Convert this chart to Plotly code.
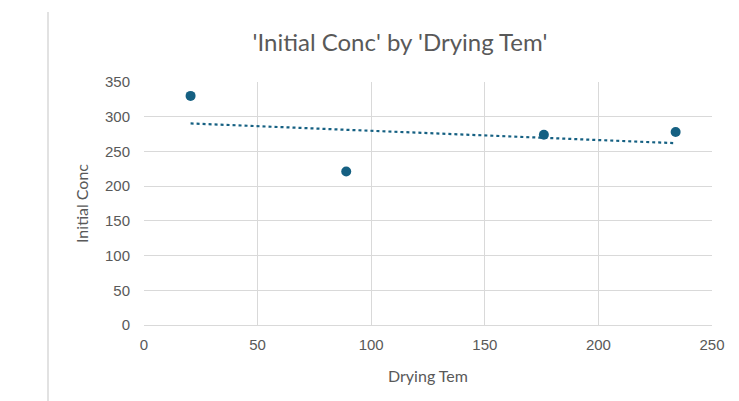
import numpy as np
import plotly.graph_objects as go

# Measurements
drying_tem = [20.5, 89, 176, 234]
initial_conc = [330, 221, 274, 278]

x_ticks = [0, 50, 100, 150, 200, 250]
y_ticks = [0, 50, 100, 150, 200, 250, 300, 350]

MARK = "#156082"
TEXT = "#595959"
GRID = "#d9d9d9"

# Linear trendline over the span of the data
slope, intercept = np.polyfit(drying_tem, initial_conc, 1)
trend_x = [min(drying_tem), max(drying_tem)]
trend_y = [slope * v + intercept for v in trend_x]

fig = go.Figure()
fig.add_trace(go.Scatter(
    x=trend_x, y=trend_y, mode="lines",
    line=dict(color=MARK, width=2.2, dash="dot"),
    hoverinfo="skip", showlegend=False,
))
fig.add_trace(go.Scatter(
    x=drying_tem, y=initial_conc, mode="markers",
    marker=dict(color=MARK, size=10),
    showlegend=False,
))

W, H = 739, 401
L, R, T, B = 144, 27, 82, 76
pw, ph = W - L - R, H - T - B

fig.update_layout(
    width=W, height=H,
    margin=dict(l=L, r=R, t=T, b=B),
    paper_bgcolor="white", plot_bgcolor="white",
    title=dict(
        text="'Initial Conc' by 'Drying Tem'",
        x=400 / W, xref="container", xanchor="center",
        y=1 - 43 / H, yref="container", yanchor="middle",
        font=dict(family="Lato", size=24, color=TEXT),
    ),
    xaxis=dict(
        range=[0, 250], tickvals=x_ticks, showgrid=True, gridcolor=GRID,
        gridwidth=1, zeroline=False, showline=True, linecolor=GRID,
        ticks="", ticklabelstandoff=6,
        tickfont=dict(family="Liberation Sans", size=15, color=TEXT),
        title=dict(text="Drying Tem", font=dict(family="Lato", size=16, color=TEXT),
                   standoff=18),
    ),
    yaxis=dict(
        range=[0, 350], tickvals=y_ticks, showgrid=True, gridcolor=GRID,
        gridwidth=1, zeroline=False, showline=False,
        ticks="", ticklabelstandoff=13,
        tickfont=dict(family="Liberation Sans", size=15, color=TEXT),
        title=dict(text="Initial Conc", font=dict(family="Lato", size=16, color=TEXT),
                   standoff=12),
    ),
    shapes=[dict(
        type="line", xref="paper", yref="paper",
        x0=(48 - L) / pw, x1=(48 - L) / pw,
        y0=(H - B - 12) / ph, y1=(H - B - 401) / ph,
        line=dict(color=GRID, width=1.5),
    )],
)

fig.write_html("out.html")
